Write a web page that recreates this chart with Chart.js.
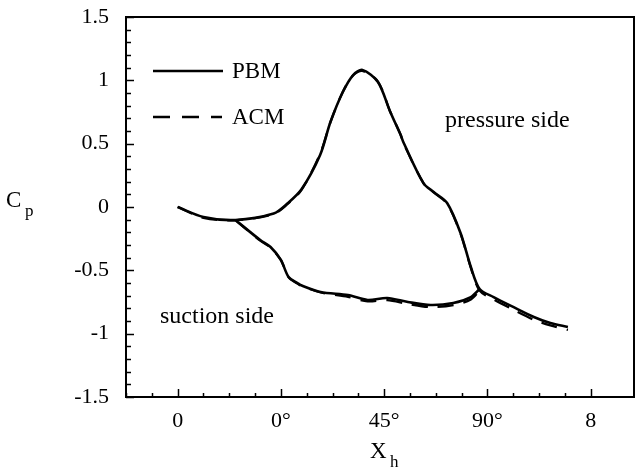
<!DOCTYPE html>
<html>
<head>
<meta charset="utf-8">
<script src="https://cdn.jsdelivr.net/npm/chart.js@4"></script>
<style>
html,body{margin:0;padding:0;background:#fff;}
#wrap{width:637px;height:473px;position:relative;}
</style>
</head>
<body>
<div id="wrap"><canvas id="c" width="637" height="473"></canvas></div>
<script>
// x positions along upstream + pressure side + downstream
const xPressure = [0, 0.25, 0.56, 0.93, 1.06, 1.20, 1.38, 1.48, 1.60, 1.70, 1.79, 1.94, 2.06, 2.16, 2.19, 2.38, 2.48, 2.61, 2.74, 2.84, 2.925, 3.06, 3.25, 3.45, 3.61, 3.78];
const pbmPressure = [0, -0.079, -0.103, -0.052, 0.025, 0.14, 0.411, 0.671, 0.908, 1.042, 1.082, 0.987, 0.75, 0.568, 0.505, 0.189, 0.118, 0.032, -0.205, -0.474, -0.647, -0.711, -0.789, -0.868, -0.916, -0.947];
const acmPressure = [0, -0.085, -0.105, -0.055, 0.02, 0.135, 0.42, 0.67, 0.91, 1.04, 1.075, 0.99, 0.75, 0.57, 0.50, 0.19, 0.115, 0.025, -0.21, -0.48, -0.66, -0.73, -0.81, -0.89, -0.935, -0.97];
// x positions along the suction side
const xSuction = [0.56, 0.80, 0.90, 1.00, 1.075, 1.16, 1.19, 1.385, 1.65, 1.84, 2.03, 2.23, 2.45, 2.67, 2.84, 2.925];
const pbmSuction = [-0.103, -0.261, -0.316, -0.418, -0.553, -0.6, -0.616, -0.671, -0.695, -0.734, -0.718, -0.75, -0.774, -0.758, -0.711, -0.647];
const acmSuction = [-0.105, -0.265, -0.32, -0.42, -0.555, -0.605, -0.62, -0.675, -0.71, -0.745, -0.735, -0.765, -0.79, -0.775, -0.73, -0.66];
// tick labels
const xTickLabels = ['0', '0\u00B0', '45\u00B0', '90\u00B0', '8'];
const yTickValues = [1.5, 1, 0.5, 0, -0.5, -1, -1.5];
const yTickLabels = ['1.5', '1', '0.5', '0', '-0.5', '-1', '-1.5'];
const seriesNames = ['PBM', 'ACM'];

function buildPath(xa, ya, xb, yb) {
  const pts = xa.map((x, i) => ({x: x, y: ya[i]}));
  pts.push({x: null, y: null});
  xb.forEach((x, i) => pts.push({x: x, y: yb[i]}));
  return pts;
}

const FONT = "'Liberation Serif', 'Times New Roman', serif";

const decor = {
  id: 'decor',
  afterDraw(chart) {
    const ctx = chart.ctx;
    const a = chart.chartArea;
    const xs = chart.scales.x, ys = chart.scales.y;
    ctx.save();
    ctx.strokeStyle = '#000';
    ctx.lineWidth = 2;
    ctx.strokeRect(a.left, a.top, a.right - a.left, a.bottom - a.top);
    ctx.lineWidth = 1.5;
    // y ticks (inward)
    ys.ticks.forEach(t => {
      const v = t.value;
      const tenth = Math.abs(v * 10 - Math.round(v * 10)) < 1e-6;
      if (!tenth) return;
      const major = Math.abs(v * 2 - Math.round(v * 2)) < 1e-6;
      const p = Math.round(ys.getPixelForValue(v)) + 0.5;
      ctx.beginPath();
      ctx.moveTo(a.left, p);
      ctx.lineTo(a.left + (major ? 8 : 5), p);
      ctx.stroke();
    });
    // x ticks (inward)
    xs.ticks.forEach(t => {
      const v = t.value;
      const q = Math.abs(v * 4 - Math.round(v * 4)) < 1e-6;
      if (!q) return;
      const major = Math.abs(v - Math.round(v)) < 1e-6;
      const p = Math.round(xs.getPixelForValue(v)) + 0.5;
      ctx.beginPath();
      ctx.moveTo(p, a.bottom);
      ctx.lineTo(p, a.bottom - (major ? 8 : 4));
      ctx.stroke();
    });
    // legend
    ctx.lineWidth = 2.4;
    ctx.beginPath();
    ctx.moveTo(a.left + 27, 71);
    ctx.lineTo(a.left + 97, 71);
    ctx.stroke();
    ctx.setLineDash([17, 12]);
    ctx.beginPath();
    ctx.moveTo(a.left + 27, 117);
    ctx.lineTo(a.left + 96, 117);
    ctx.stroke();
    ctx.setLineDash([]);
    ctx.fillStyle = '#000';
    ctx.textBaseline = 'alphabetic';
    ctx.textAlign = 'left';
    ctx.font = '23px ' + FONT;
    ctx.fillText(seriesNames[0], a.left + 106, 78);
    ctx.fillText(seriesNames[1], a.left + 106, 124);
    // annotations
    ctx.font = '24px ' + FONT;
    ctx.fillText('pressure side', 445, 127);
    ctx.fillText('suction side', 160, 323);
    // axis titles
    ctx.font = '23px ' + FONT;
    ctx.fillText('C', 6, 207);
    ctx.font = '17px ' + FONT;
    ctx.fillText('p', 25, 216);
    ctx.font = '23px ' + FONT;
    ctx.fillText('X', 370, 458);
    ctx.font = '17px ' + FONT;
    ctx.fillText('h', 390, 467);
    ctx.restore();
  }
};

new Chart(document.getElementById('c'), {
  type: 'scatter',
  data: {
    datasets: [
      {
        label: seriesNames[0],
        data: buildPath(xPressure, pbmPressure, xSuction, pbmSuction),
        showLine: true,
        borderColor: '#000',
        borderWidth: 2.6,
        pointRadius: 0,
        tension: 0.3,
        spanGaps: false
      },
      {
        label: seriesNames[1],
        data: buildPath(xPressure, acmPressure, xSuction, acmSuction),
        showLine: true,
        borderColor: '#000',
        borderWidth: 2.3,
        borderDash: [16, 10],
        pointRadius: 0,
        tension: 0.3,
        spanGaps: false
      }
    ]
  },
  options: {
    responsive: false,
    animation: false,
    layout: {padding: {left: 0, top: 17, right: 3, bottom: 0}},
    plugins: {legend: {display: false}, tooltip: {enabled: false}},
    scales: {
      x: {
        type: 'linear',
        min: -0.5,
        max: 4.42,
        afterFit(s) { s.height = 76; s.paddingLeft = 0; s.paddingRight = 0; },
        grid: {display: false, drawTicks: false},
        border: {display: false},
        ticks: {
          stepSize: 0.25,
          autoSkip: false,
          maxRotation: 0,
          padding: 11,
          color: '#000',
          font: {family: FONT, size: 22},
          callback(v) {
            const r = Math.round(v);
            if (Math.abs(v - r) < 1e-6 && r >= 0 && r < xTickLabels.length) return xTickLabels[r];
            return '';
          }
        }
      },
      y: {
        type: 'linear',
        min: -1.5,
        max: 1.5,
        afterFit(s) { s.width = 126; s.paddingTop = 0; s.paddingBottom = 0; },
        grid: {display: false, drawTicks: false},
        border: {display: false},
        ticks: {
          stepSize: 0.1,
          autoSkip: false,
          padding: 17,
          color: '#000',
          font: {family: FONT, size: 22},
          callback(v) {
            const i = yTickValues.findIndex(t => Math.abs(t - v) < 1e-6);
            return i >= 0 ? yTickLabels[i] : '';
          }
        }
      }
    }
  },
  plugins: [decor]
});
</script>
</body>
</html>
